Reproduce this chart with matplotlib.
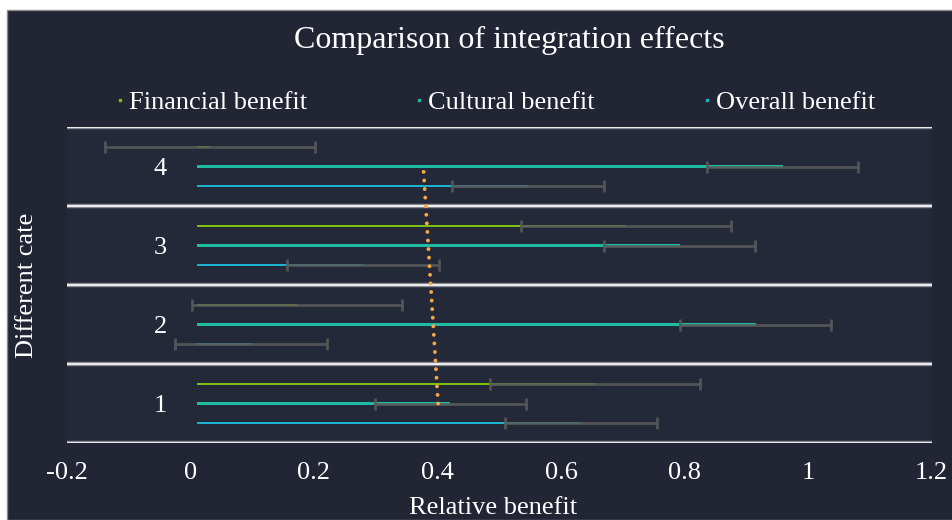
import numpy as np
import matplotlib.pyplot as plt
from matplotlib.lines import Line2D
from matplotlib.patches import Rectangle
import matplotlib.patheffects as pe

plt.rcParams['font.family'] = ['Liberation Serif', 'DejaVu Serif']

# data
categories = ['1', '2', '3', '4']
financial = [0.655, 0.172, 0.705, 0.032]
cultural = [0.421, 0.915, 0.792, 0.959]
overall = [0.632, 0.098, 0.279, 0.547]
financial_err = [0.17, 0.17, 0.17, 0.17]
cultural_err = [0.122, 0.122, 0.122, 0.122]
overall_err = [0.123, 0.123, 0.123, 0.123]
trend = [0.401, 0.393, 0.385, 0.377]
xticks = [-0.2, 0, 0.2, 0.4, 0.6, 0.8, 1, 1.2]
xtick_labels = ['-0.2', '0', '0.2', '0.4', '0.6', '0.8', '1', '1.2']

bg = '#212534'
fig = plt.figure(figsize=(9.52, 5.2), dpi=100, facecolor='white')
# dark card (the picture is offset a bit from the top/left)
fig.add_artist(Rectangle((7 / 952, 0), 1, 1 - 10 / 520, transform=fig.transFigure,
                         facecolor=bg, edgecolor='#8a8a8a', lw=1, zorder=-10))

ax = fig.add_axes([67 / 952, 1 - 443 / 520, 864.5 / 952, 316 / 520])
ax.set_facecolor('#242939')
for s in ax.spines.values():
    s.set_visible(False)

y = np.arange(1, len(categories) + 1)
off = 0.247
base = 0.01
series = [
    (financial, financial_err, '#7fbf12', 'Financial benefit', off),
    (cultural, cultural_err, '#1fbca2', 'Cultural benefit', 0),
    (overall, overall_err, '#1eb2d0', 'Overall benefit', -off),
]
handles = []
for vals, errs, col, lab, dy in series:
    vals = np.array(vals)
    ax.barh(y + dy, vals - base, left=base, height=0.036, color=col, zorder=2)
    ax.errorbar(vals, y + dy, xerr=errs, fmt='none', ecolor='#595959', alpha=0.9,
                elinewidth=2, capsize=4.3, capthick=2, zorder=3)
    handles.append(Line2D([], [], ls='none', marker='s', ms=2, color=col, label=lab))

ax.plot(trend, y, color='#f7a843', lw=2.8, ls=(0, (0.01, 2.2)),
        dash_capstyle='round', zorder=4)

for b in np.arange(0.5, len(categories) + 1, 1):
    ax.axhline(b, color='#ececec', lw=1.5, zorder=1,
               path_effects=[pe.Stroke(linewidth=3.2, foreground='#80838d'), pe.Normal()])

ax.set_xlim(-0.2, 1.2)
ax.set_ylim(0.5, len(categories) + 0.5)
ax.set_xticks(xticks)
ax.set_xticklabels(xtick_labels)
ax.set_yticks(y)
ax.set_yticklabels(categories)
ax.tick_params(axis='x', length=0, pad=14, labelsize=19, colors='white')
ax.tick_params(axis='y', length=0, pad=-72, labelsize=19, colors='white')

fig.text(509 / 952, 1 - 40 / 520, 'Comparison of integration effects',
         ha='center', va='center', color='white', fontsize=23)
fig.text(493.5 / 952, 1 - 508 / 520, 'Relative benefit',
         ha='center', va='center', color='white', fontsize=19)
fig.text(27 / 952, 1 - 285 / 520, 'Different cate', rotation=90,
         ha='center', va='center', color='white', fontsize=19)

fig.legend(handles=handles, loc='center', bbox_to_anchor=(495 / 952, 1 - 102 / 520),
           ncol=3, frameon=False, fontsize=19, labelcolor='white',
           handlelength=0.4, handletextpad=0.15, columnspacing=4.05)

fig.savefig('out.png', dpi=100, facecolor=fig.get_facecolor())
